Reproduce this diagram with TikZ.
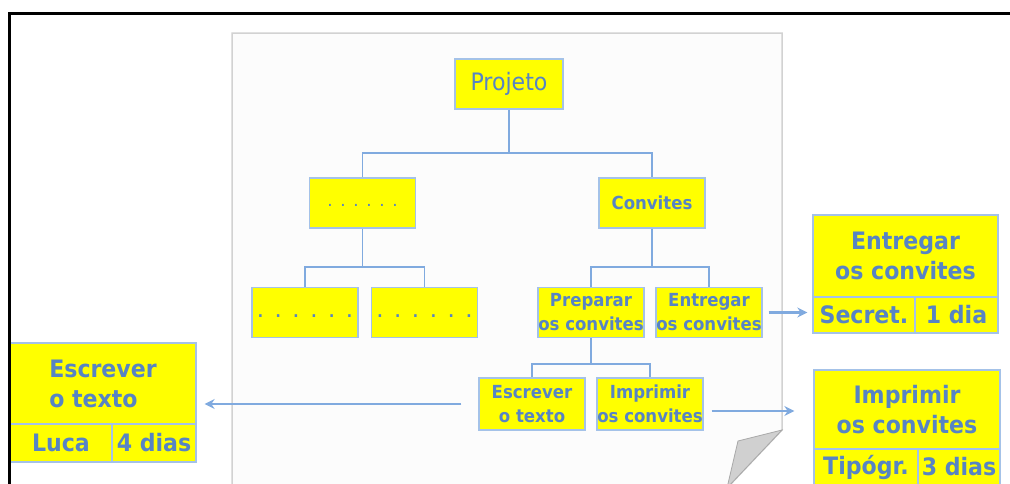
\documentclass[tikz,border=0pt]{standalone}
\usepackage{fontspec}
\newfontfamily\cfont[FakeStretch=0.92]{DejaVu Sans}
\usetikzlibrary{arrows.meta}

\definecolor{boxyellow}{HTML}{FFFF00}
\definecolor{boxedge}{HTML}{A4C2E8}
\definecolor{linkblue}{HTML}{80AADF}
\definecolor{inkblue}{HTML}{5784C4}
\definecolor{pagefill}{HTML}{FCFCFC}
\definecolor{pageedge}{HTML}{D2D2D2}
\definecolor{curlfill}{HTML}{D0D0D0}
\definecolor{curledge}{HTML}{A8A8A8}

\begin{document}
\begin{tikzpicture}[x=1pt,y=-1pt,
  wbs/.style={draw=boxedge, line width=1.3pt, fill=boxyellow, text=inkblue,
    inner sep=0pt, minimum width=106pt, minimum height=50pt, align=center,
    font=\cfont\bfseries\fontsize{18}{24}\selectfont},
  card/.style={draw=boxedge, line width=1.3pt, fill=boxyellow, text=inkblue,
    inner sep=0pt, align=center,
    font=\cfont\bfseries\fontsize{24}{30}\selectfont},
  link/.style={draw=linkblue, line width=1.9pt},
  arr/.style={draw=linkblue, line width=2.6pt, -{Stealth[length=10pt,width=10pt]}}]

\useasboundingbox (0,0) rectangle (1010,483);
\fill[white] (0,0) rectangle (1010,483);

% sheet of paper with a turned-up corner
\filldraw[fill=pagefill, draw=pageedge, line width=1.5pt]
  (232,495) -- (232,33) -- (782,33) -- (782,430) -- (727,488);
\filldraw[fill=curlfill, draw=curledge, line width=0.8pt]
  (782,430) -- (738,441) -- (727,488) -- cycle;

% work breakdown tree
\node[wbs, font=\cfont\fontsize{24}{28}\selectfont, minimum width=108pt] (proj) at (509,84)
  {\raisebox{-2pt}{Projeto}};
\node[wbs, font=\cfont\bfseries\fontsize{11}{12}\selectfont] (d1) at (362.5,203)
  {\raisebox{-6pt}{\spaceskip=8pt . . . . . .}};
\node[wbs] (conv) at (652,203) {Convites};
\node[wbs, font=\cfont\bfseries\fontsize{15}{16}\selectfont] (l1) at (305,312.5)
  {\raisebox{-9pt}{\spaceskip=11pt . . . . . .}};
\node[wbs, font=\cfont\bfseries\fontsize{15}{16}\selectfont] (l2) at (424.5,312.5)
  {\raisebox{-9pt}{\spaceskip=11pt . . . . . .}};
\node[wbs] (prep) at (591,312.5) {Preparar\\os convites};
\node[wbs] (entr) at (709,312.5) {Entregar\\os convites};
\node[wbs, minimum height=52pt] (escr) at (532,404) {Escrever\\o texto};
\node[wbs, minimum height=52pt] (impr) at (650,404) {Imprimir\\os convites};

\draw[link] (proj.south) -- ++(0,43) coordinate (j1);
\draw[link] (d1.north) |- (j1) -| (conv.north);
\draw[link] (d1.south) -- ++(0,38) coordinate (j2);
\draw[link] (l1.north) |- (j2) -| (l2.north);
\draw[link] (conv.south) -- ++(0,38) coordinate (j3);
\draw[link] (prep.north) |- (j3) -| (entr.north);
\draw[link] (prep.south) -- ++(0,25.5) coordinate (j4);
\draw[link] (escr.north) |- (j4) -| (impr.north);

% task cards: title, responsible, duration
\node[card, minimum width=185pt, minimum height=82pt] (bentrT) at (905.5,256) {Entregar\\os convites};
\node[card, minimum width=102pt, minimum height=36pt] (bentrA) at (864,315) {Secret.};
\node[card, minimum width=83pt, minimum height=36pt] (bentrB) at (956.5,315) {1 dia};

\node[card, minimum width=186pt, minimum height=79pt] (bimprT) at (907,409.5) {Imprimir\\os convites};
\node[card, minimum width=104pt, minimum height=36pt] (bimprA) at (866,467) {Tipógr.};
\node[card, minimum width=82pt, minimum height=36pt] (bimprB) at (959,467) {3 dias};

\node[card, minimum width=186pt, minimum height=81pt, align=left] (bescrT) at (103,383.5) {Escrever\\o texto};
\node[card, minimum width=102pt, minimum height=38pt] (bescrA) at (61,443) {Luca};
\node[card, minimum width=84pt, minimum height=38pt] (bescrB) at (154,443) {4 dias};

\draw[arr] ([xshift=-17pt]escr.west) -- ([xshift=8pt]bescrT.east |- escr.west);
\draw[arr] ([xshift=8pt,yshift=-7pt]impr.east) -- ([xshift=-19pt,yshift=-7pt]impr.east -| bimprT.west);
\draw[arr] ([xshift=6pt]entr.east) -- ([xshift=-5pt]entr.east -| bentrT.west);

% outer frame
\draw[line width=3.6pt, line cap=rect] (9.5,490) -- (9.5,13.3) -- (1020,13.3);
\end{tikzpicture}
\end{document}
